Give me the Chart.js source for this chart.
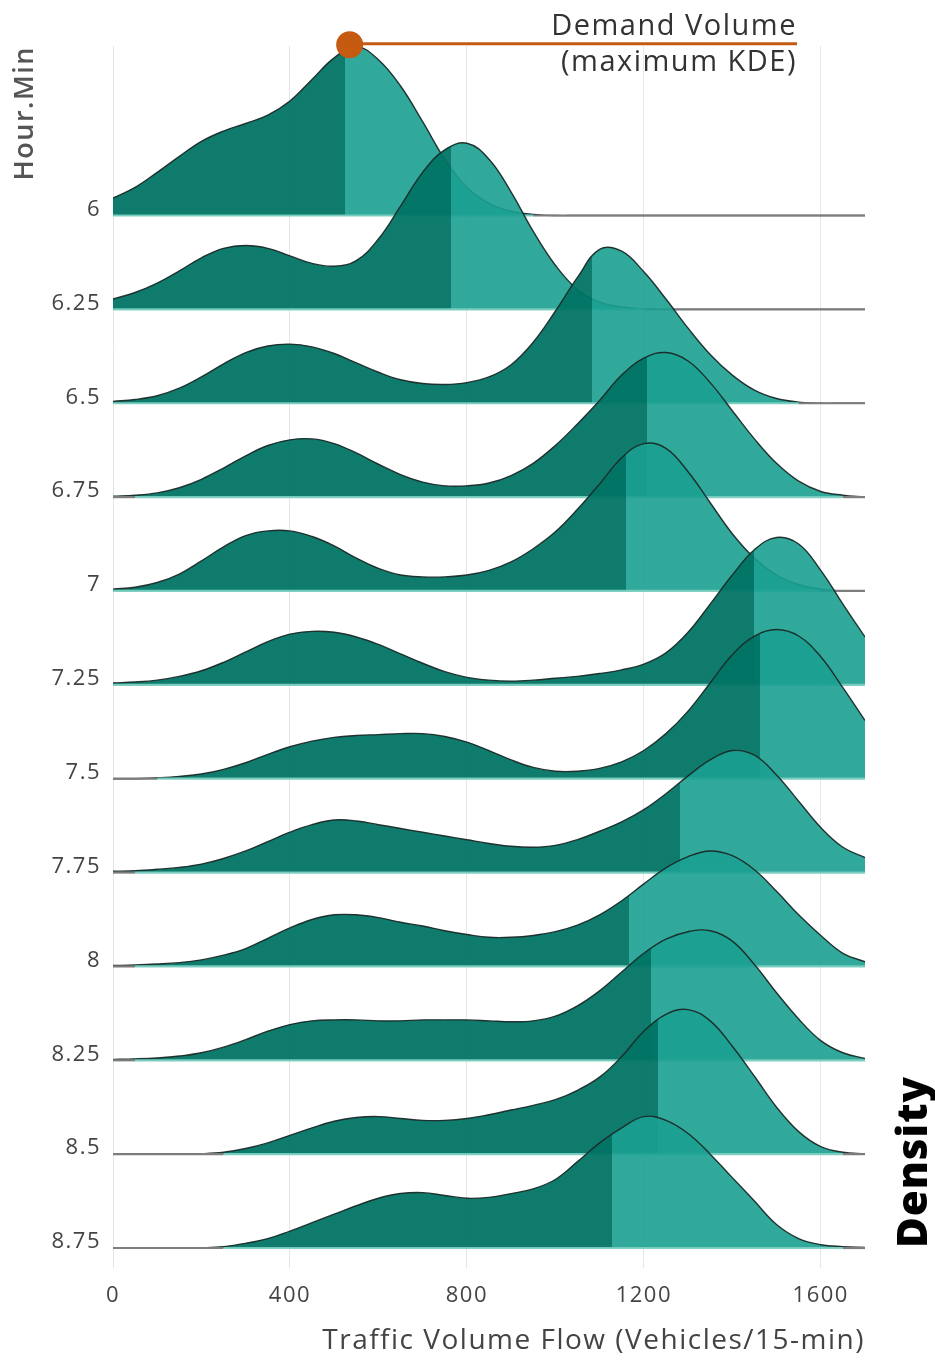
<!DOCTYPE html>
<html>
<head>
<meta charset="utf-8">
<title>Traffic volume ridgeline</title>
<script src="https://cdn.jsdelivr.net/npm/chart.js@4.4.1/dist/chart.umd.min.js"></script>
<style>
  html, body { margin: 0; padding: 0; background: #ffffff; }
  #wrap { width: 935px; height: 1364px; }
</style>
</head>
<body>
<div id="wrap"><canvas id="ridges" width="935" height="1364"></canvas></div>
<script>
// Time slots (hour.fraction), top ridge first
const hourLabels = ['6', '6.25', '6.5', '6.75', '7', '7.25', '7.5', '7.75', '8', '8.25', '8.5', '8.75'];

// Tick values along the flow axis
const flowTicks = [0, 400, 800, 1200, 1600];

// Flow values (vehicles / 15-min) at which each density curve is sampled
const flowGrid = [0, 50, 100, 150, 200, 250, 300, 350, 400, 450, 500, 550, 600, 650, 700, 750, 800,
  850, 900, 950, 1000, 1050, 1100, 1150, 1200, 1250, 1300, 1350, 1400, 1450, 1500, 1550, 1600, 1650, 1700];

// Kernel density per slot (in units of one ridge spacing)
const density600 = [0.185, 0.30, 0.46, 0.63, 0.79, 0.90, 0.98, 1.07, 1.22, 1.45, 1.68, 1.80, 1.66, 1.38, 1.00, 0.60, 0.30,
  0.13, 0.045, 0.012, 0, 0, 0, 0, 0, 0, 0, 0, 0, 0, 0, 0, 0, 0, 0];
const density625 = [0.11, 0.18, 0.28, 0.41, 0.55, 0.65, 0.68, 0.65, 0.57, 0.49, 0.46, 0.52, 0.75, 1.10, 1.46, 1.70, 1.77,
  1.60, 1.25, 0.83, 0.47, 0.21, 0.08, 0.025, 0.008, 0, 0, 0, 0, 0, 0, 0, 0, 0, 0];
const density650 = [0.02, 0.04, 0.08, 0.16, 0.28, 0.42, 0.54, 0.61, 0.63, 0.60, 0.53, 0.43, 0.33, 0.25, 0.21, 0.20, 0.22,
  0.28, 0.41, 0.65, 0.98, 1.34, 1.64, 1.62, 1.40, 1.11, 0.80, 0.52, 0.30, 0.14, 0.05, 0.012, 0, 0, 0];
const density675 = [0.01, 0.02, 0.045, 0.10, 0.19, 0.31, 0.44, 0.55, 0.61, 0.62, 0.57, 0.47, 0.35, 0.24, 0.16, 0.12, 0.12,
  0.15, 0.23, 0.36, 0.55, 0.78, 1.03, 1.30, 1.48, 1.54, 1.45, 1.22, 0.92, 0.62, 0.36, 0.17, 0.06, 0.02, 0];
const density700 = [0.02, 0.04, 0.09, 0.18, 0.32, 0.47, 0.59, 0.64, 0.64, 0.58, 0.48, 0.35, 0.24, 0.17, 0.15, 0.15, 0.17,
  0.22, 0.31, 0.45, 0.63, 0.87, 1.14, 1.42, 1.57, 1.52, 1.27, 0.94, 0.61, 0.35, 0.17, 0.07, 0.02, 0, 0];
const density725 = [0.02, 0.03, 0.05, 0.09, 0.15, 0.24, 0.35, 0.46, 0.54, 0.57, 0.56, 0.51, 0.43, 0.33, 0.23, 0.14, 0.08,
  0.05, 0.04, 0.05, 0.07, 0.09, 0.12, 0.16, 0.22, 0.34, 0.56, 0.86, 1.17, 1.44, 1.57, 1.50, 1.22, 0.86, 0.51];
const density750 = [0, 0, 0.01, 0.025, 0.05, 0.10, 0.17, 0.26, 0.34, 0.40, 0.44, 0.46, 0.47, 0.48, 0.48, 0.45, 0.39,
  0.30, 0.20, 0.12, 0.08, 0.08, 0.11, 0.18, 0.30, 0.48, 0.72, 1.02, 1.32, 1.52, 1.59, 1.52, 1.30, 0.97, 0.62];
const density775 = [0.014, 0.02, 0.035, 0.055, 0.09, 0.15, 0.23, 0.33, 0.43, 0.51, 0.56, 0.55, 0.51, 0.47, 0.43, 0.39, 0.35,
  0.31, 0.28, 0.27, 0.29, 0.35, 0.44, 0.54, 0.67, 0.84, 1.03, 1.20, 1.30, 1.25, 1.04, 0.76, 0.48, 0.27, 0.16];
const density800 = [0.01, 0.015, 0.025, 0.04, 0.07, 0.12, 0.19, 0.30, 0.41, 0.50, 0.55, 0.55, 0.52, 0.47, 0.43, 0.38, 0.34,
  0.31, 0.31, 0.33, 0.37, 0.44, 0.55, 0.70, 0.88, 1.05, 1.17, 1.23, 1.18, 1.03, 0.80, 0.55, 0.33, 0.14, 0.05];
const density825 = [0.01, 0.015, 0.025, 0.045, 0.08, 0.14, 0.22, 0.31, 0.38, 0.42, 0.43, 0.43, 0.42, 0.42, 0.43, 0.43, 0.43,
  0.42, 0.41, 0.42, 0.47, 0.58, 0.74, 0.94, 1.14, 1.29, 1.37, 1.38, 1.27, 1.02, 0.72, 0.44, 0.21, 0.08, 0.02];
const density850 = [0, 0, 0, 0, 0.004, 0.02, 0.06, 0.12, 0.20, 0.28, 0.35, 0.39, 0.40, 0.38, 0.36, 0.36, 0.38,
  0.42, 0.47, 0.52, 0.58, 0.68, 0.82, 1.04, 1.31, 1.49, 1.54, 1.42, 1.15, 0.83, 0.50, 0.24, 0.08, 0.02, 0.005];
const density875 = [0, 0, 0, 0, 0.003, 0.015, 0.05, 0.10, 0.18, 0.27, 0.36, 0.45, 0.53, 0.58, 0.59, 0.56, 0.53,
  0.54, 0.58, 0.63, 0.73, 0.92, 1.12, 1.28, 1.40, 1.36, 1.22, 1.00, 0.75, 0.50, 0.25, 0.10, 0.035, 0.015, 0.007];

// Flow value where each ridge switches from the low to the high shade
const splitFlow = [525, 764, 1082, 1208, 1159, 1449, 1463, 1282, 1167, 1217, 1232, 1128];

// Demand volume marker on the 6:00 ridge: [flow, density]
const demandPeak = [535, 1.82];
const noteLines = ['Demand Volume', '(maximum KDE)'];

const ridgeDensities = [density600, density625, density650, density675, density700, density725,
  density750, density775, density800, density825, density850, density875];

const FONT = '"Open Sans", "Noto Sans", sans-serif';
const FILL_LOW = 'rgba(0, 115, 100, 0.94)';
const FILL_HIGH = 'rgba(26, 160, 145, 0.9)';
const OUTLINE = 'rgba(26, 42, 40, 0.95)';
const ACCENT = '#c55a11';
const TEXT_SPACING = '1.5px';

const nRidges = hourLabels.length;

// Horizontal gradient with a hard stop: darker shade left of the split, lighter to the right
function splitFill(chart, flow) {
  const area = chart.chartArea;
  if (!area) return FILL_LOW;
  const px = chart.scales.x.getPixelForValue(flow);
  const t = Math.min(1, Math.max(0, (px - area.left) / (area.right - area.left)));
  const g = chart.ctx.createLinearGradient(area.left, 0, area.right, 0);
  g.addColorStop(0, FILL_LOW);
  g.addColorStop(t, FILL_LOW);
  g.addColorStop(t, FILL_HIGH);
  g.addColorStop(1, FILL_HIGH);
  return g;
}

const datasets = [];
ridgeDensities.forEach((dens, i) => {
  const base = nRidges - 1 - i;
  // density curve, filled down to its own baseline
  datasets.push({
    label: hourLabels[i],
    data: flowGrid.map((f, k) => ({ x: f, y: base + dens[k] })),
    fill: { value: base },
    backgroundColor: (ctx) => splitFill(ctx.chart, splitFlow[i]),
    borderColor: OUTLINE,
    borderWidth: 1.4,
    pointRadius: 0,
    tension: 0.4,
    order: 2 * (nRidges - 1 - i) + 1
  });
  // baseline rule: pale under the curve, grey where the density has died out
  datasets.push({
    label: hourLabels[i] + ' base',
    data: flowGrid.map((f) => ({ x: f, y: base })),
    fill: false,
    borderColor: 'rgb(125,125,125)',
    borderWidth: 2.2,
    pointRadius: 0,
    segment: {
      borderColor: (c) => (dens[c.p0DataIndex] > 0.02 || dens[c.p1DataIndex] > 0.02)
        ? 'rgba(120, 205, 192, 0.95)' : 'rgb(125,125,125)'
    },
    order: 2 * (nRidges - 1 - i)
  });
});

// demand volume dot
datasets.push({
  label: 'Demand Volume',
  data: [{ x: demandPeak[0], y: nRidges - 1 + demandPeak[1] }],
  showLine: false,
  pointRadius: 13.5,
  pointBackgroundColor: ACCENT,
  pointBorderWidth: 0,
  clip: false,
  order: -1
});

const notesPlugin = {
  id: 'ridgeNotes',
  beforeDraw(chart) {
    chart.ctx.letterSpacing = TEXT_SPACING;
  },
  afterDraw(chart) {
    const { ctx, scales: { x, y } } = chart;
    const px = x.getPixelForValue(demandPeak[0]);
    const py = y.getPixelForValue(nRidges - 1 + demandPeak[1]);
    ctx.save();
    ctx.letterSpacing = TEXT_SPACING;
    // leader from the dot to the note
    ctx.strokeStyle = ACCENT;
    ctx.lineWidth = 3;
    ctx.beginPath();
    ctx.moveTo(px, py - 1);
    ctx.lineTo(797, py - 1);
    ctx.stroke();
    ctx.fillStyle = '#333333';
    ctx.font = '29px ' + FONT;
    ctx.textAlign = 'right';
    ctx.textBaseline = 'alphabetic';
    ctx.fillText(noteLines[0], 797, 35);
    ctx.fillText(noteLines[1], 797, 71);
    // vertical "Density" caption at bottom right
    ctx.translate(927, 1162);
    ctx.rotate(-Math.PI / 2);
    ctx.font = '800 42px ' + FONT;
    ctx.fillStyle = '#000000';
    ctx.textAlign = 'center';
    ctx.letterSpacing = '1px';
    ctx.fillText('Density', 0, 0);
    ctx.restore();
    ctx.letterSpacing = '0px';
  }
};

new Chart(document.getElementById('ridges'), {
  type: 'line',
  data: { datasets },
  plugins: [notesPlugin],
  options: {
    responsive: false,
    animation: false,
    devicePixelRatio: 1,
    events: [],
    layout: { padding: { top: 46, right: 70, bottom: 0, left: 0 } },
    plugins: { legend: { display: false }, tooltip: { enabled: false } },
    scales: {
      x: {
        type: 'linear',
        min: 0,
        max: 1700,
        afterFit: (s) => { s.height = 96; },
        afterBuildTicks: (s) => { s.ticks = flowTicks.map((v) => ({ value: v })); },
        border: { display: false },
        grid: { color: '#e6e6e6', lineWidth: 1, drawTicks: false },
        ticks: {
          callback: (v) => String(v),
          padding: 15,
          maxRotation: 0,
          autoSkip: false,
          color: '#444444',
          font: { family: FONT, size: 22 }
        },
        title: {
          display: true,
          text: 'Traffic Volume Flow (Vehicles/15-min)',
          align: 'end',
          color: '#444444',
          font: { family: FONT, size: 28 },
          padding: { top: 0, bottom: 6 }
        }
      },
      y: {
        type: 'linear',
        min: -0.213,
        max: 12.806,
        afterFit: (s) => { s.width = 113; },
        afterBuildTicks: (s) => { s.ticks = hourLabels.map((_, i) => ({ value: nRidges - 1 - i })); },
        border: { display: false },
        grid: { display: false, drawTicks: false },
        ticks: {
          callback: (v) => hourLabels[nRidges - 1 - v],
          padding: 12,
          labelOffset: -6,
          color: '#444444',
          font: { family: FONT, size: 22 }
        },
        title: {
          display: true,
          text: 'Hour.Min',
          align: 'end',
          color: '#555555',
          font: { family: FONT, size: 27, weight: '600' },
          padding: { top: 9, bottom: 0 }
        }
      }
    }
  }
});
</script>
</body>
</html>
